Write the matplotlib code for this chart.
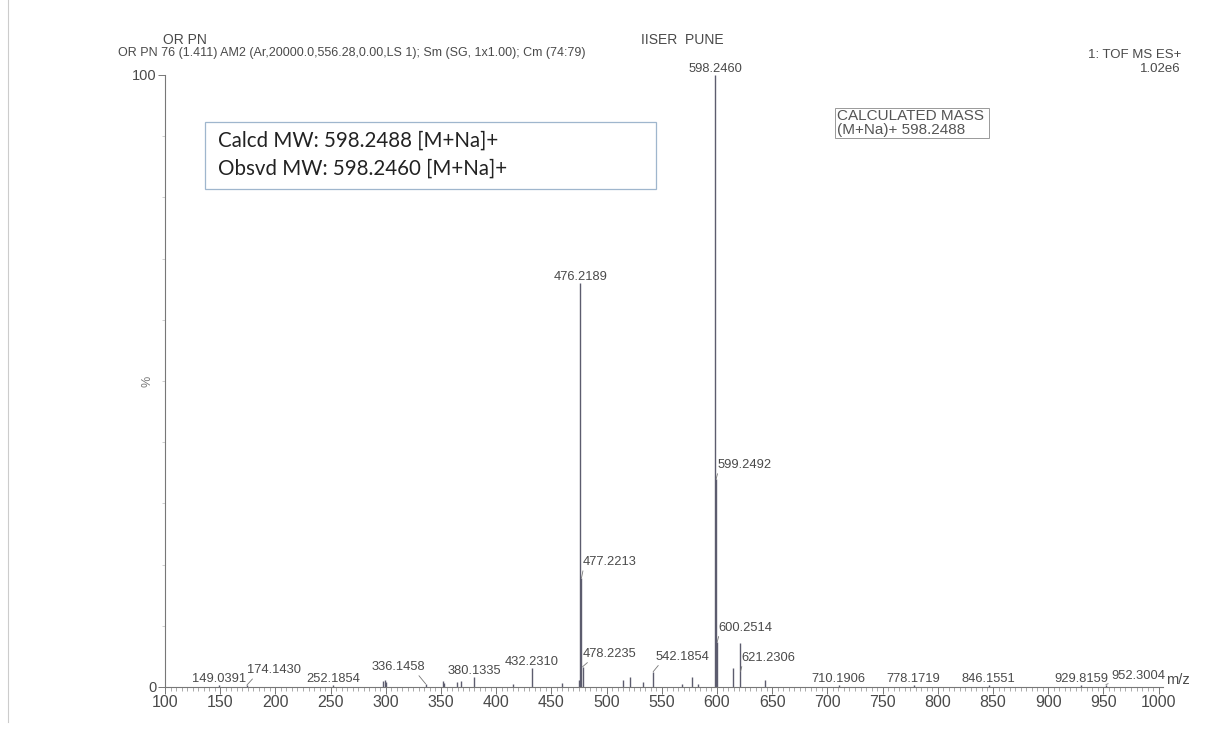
import matplotlib
matplotlib.use("Agg")
import matplotlib.pyplot as plt
from matplotlib.ticker import MultipleLocator
from matplotlib.lines import Line2D
from matplotlib.patches import Rectangle

# peak list (m/z, relative intensity %)
mz = [149.0391, 174.1430, 252.1854, 297.5, 299.5, 300.5, 336.1458, 351.5, 353.0,
      364.5, 368.5, 380.1335, 415.0, 432.2310, 459.5, 475.2, 476.2189, 477.2213,
      478.2235, 515.0, 521.0, 533.0, 542.1854, 568.0, 577.0, 583.0, 598.2460,
      599.2492, 600.2514, 614.5, 621.2306, 643.5, 710.1906, 778.1719, 846.1551,
      929.8159, 952.3004]
intensity = [0.3, 0.3, 0.3, 1.0, 1.2, 0.8, 0.5, 0.9, 0.7,
             0.8, 1.0, 1.6, 0.5, 3.1, 0.6, 1.2, 66.0, 17.8,
             3.3, 1.2, 1.6, 0.8, 2.5, 0.5, 1.7, 0.5, 100.0,
             34.0, 7.4, 3.1, 7.2, 1.2, 0.4, 0.3, 0.3,
             0.3, 0.4]

# labelled peaks
label_mz = [149.0391, 174.1430, 252.1854, 336.1458, 380.1335, 432.2310, 476.2189,
            477.2213, 478.2235, 542.1854, 598.2460, 599.2492, 600.2514, 621.2306,
            710.1906, 778.1719, 846.1551, 929.8159, 952.3004]
label_text = ["149.0391", "174.1430", "252.1854", "336.1458", "380.1335", "432.2310",
              "476.2189", "477.2213", "478.2235", "542.1854", "598.2460", "599.2492",
              "600.2514", "621.2306", "710.1906", "778.1719", "846.1551", "929.8159",
              "952.3004"]

xticks = list(range(100, 1001, 50))

W, H = 1231, 734
fig = plt.figure(figsize=(W / 100, H / 100), dpi=100)
plt.rcParams['font.family'] = ['Liberation Sans', 'DejaVu Sans']

# axes box in pixels: x 165..1163, y 75..687
ax = fig.add_axes([165 / W, 1 - 687 / H, 998 / W, 612 / H])
ax.set_xlim(100, 1004)
ax.set_ylim(0, 100)

peak_col = '#5c5c6e'
txt_col = '#4a4a4a'
ax.vlines(mz, 0, intensity, colors=peak_col, lw=1.0)

for s in ['top', 'right']:
    ax.spines[s].set_visible(False)
for s in ['left', 'bottom']:
    ax.spines[s].set_color('#777777')
    ax.spines[s].set_linewidth(0.8)

ax.set_xticks(xticks)
ax.xaxis.set_minor_locator(MultipleLocator(5))
ax.set_yticks([0, 100])
ax.yaxis.set_minor_locator(MultipleLocator(10))
ax.tick_params(axis='x', which='major', length=5, width=0.7, color='#777777',
               labelsize=11.5, labelcolor=txt_col, pad=1)
ax.tick_params(axis='x', which='minor', length=3, width=0.5, color='#888888')
ax.tick_params(axis='y', which='major', length=5, width=0.7, color='#777777',
               labelsize=10.5, labelcolor=txt_col, pad=1)
ax.tick_params(axis='y', which='minor', length=2, width=0.4, color='#aaaaaa')

ax.text(-0.012, 0.5, '%', transform=ax.transAxes, rotation=90, ha='right',
        va='center', fontsize=9, color='#777777')
ax.text(1.003, 0.0, 'm/z', transform=ax.transAxes, ha='left', va='bottom',
        fontsize=10.5, color=txt_col)

# label placement: (ha, dx, dy in pixels, leader attach point)
place = {
    "174.1430": ('left', 0, 9, 0.15),
    "336.1458": ('right', -1, 11, 0.85),
    "477.2213": ('left', 1, 10, 0.02),
    "478.2235": ('left', 0, 7, 0.15),
    "542.1854": ('left', 2, 9, 0.1),
    "599.2492": ('left', 1, 8, 0.02),
    "600.2514": ('left', 1, 8, 0.02),
    "621.2306": ('left', 1, 8, 0.02),
    "952.3004": ('left', 5, 3, 0.05),
}
heights = dict(zip(mz, intensity))
for m, t in zip(label_mz, label_text):
    h = heights[m]
    if t == "621.2306":
        h = 2.5
    if t in place:
        ha, dx, dy, rp = place[t]
        ax.annotate(t, xy=(m, h), xytext=(dx, dy), textcoords='offset pixels',
                    ha=ha, va='bottom', fontsize=9.3, color=txt_col,
                    arrowprops=dict(arrowstyle='-', color='#777777', lw=0.6,
                                    relpos=(rp, 0), shrinkA=0, shrinkB=0))
    else:
        ax.annotate(t, xy=(m, h), xytext=(0, 0), textcoords='offset pixels',
                    ha='center', va='bottom', fontsize=9.3, color=txt_col)

# header text
def ftext(x, y, s, **kw):
    fig.text(x / W, 1 - y / H, s, va='center', **kw)

ftext(163, 40, "OR PN", fontsize=10, color=txt_col)
ftext(641, 40, "IISER  PUNE", fontsize=10, color=txt_col)
ftext(118, 53, "OR PN 76 (1.411) AM2 (Ar,20000.0,556.28,0.00,LS 1); Sm (SG, 1x1.00); Cm (74:79)",
      fontsize=9, color=txt_col)
ftext(1181, 55, "1: TOF MS ES+", fontsize=9.5, color=txt_col, ha='right')
ftext(1181, 69, "1.02e6", fontsize=9.5, color=txt_col, ha='right')

# calculated mass box
fig.patches.append(Rectangle((835 / W, 1 - 138 / H), 154 / W, 30 / H,
                             transform=fig.transFigure, fill=False,
                             ec='#999999', lw=0.7))
ftext(837, 116, "CALCULATED MASS", fontsize=11, color='#555555')
ftext(837, 130, "(M+Na)+ 598.2488", fontsize=11, color='#555555')

# MW box
fig.patches.append(Rectangle((205 / W, 1 - 189 / H), 451 / W, 67 / H,
                             transform=fig.transFigure, fill=False,
                             ec='#9fb6cd', lw=0.9))
ftext(218, 141, "Calcd MW: 598.2488 [M+Na]+", fontsize=14.8, color='#222222',
      family=['Lato', 'DejaVu Sans'])
ftext(218, 169, "Obsvd MW: 598.2460 [M+Na]+", fontsize=14.8, color='#222222',
      family=['Lato', 'DejaVu Sans'])

# page border
fig.lines.append(Line2D([8 / W, 8 / W], [1, 1 - 722 / H], transform=fig.transFigure,
                        color='#cccccc', lw=0.8))

fig.savefig('out.png', dpi=100)
